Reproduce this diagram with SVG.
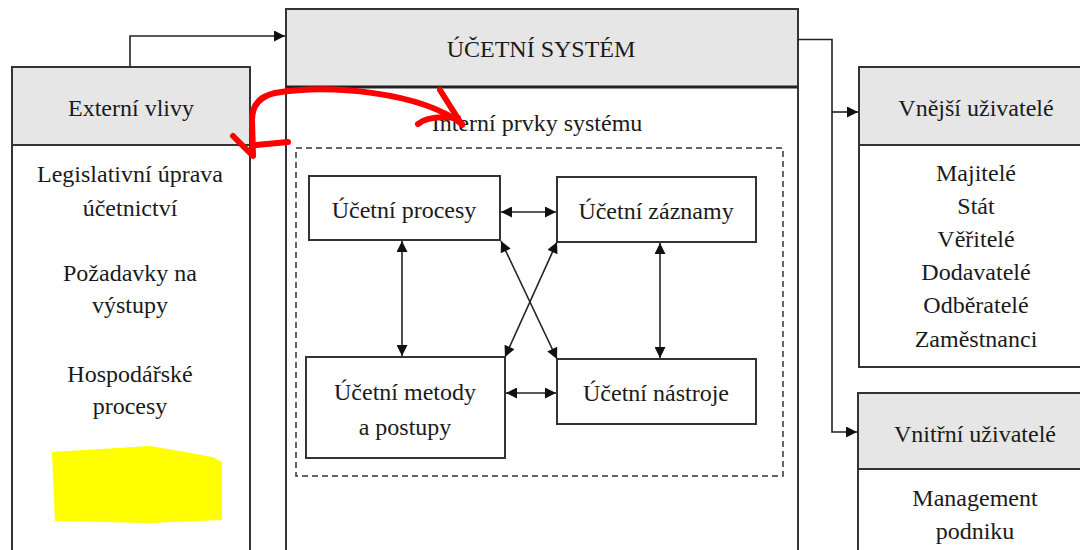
<svg xmlns="http://www.w3.org/2000/svg" width="1080" height="550" viewBox="0 0 1080 550">
<defs>
<marker id="ah" viewBox="0 0 10 10" refX="10" refY="5" markerWidth="13" markerHeight="11" markerUnits="userSpaceOnUse" orient="auto-start-reverse">
<path d="M0,0 L10,5 L0,10 Z" fill="#111"/>
</marker>
</defs>
<style>
.box{fill:#fff;stroke:#333;stroke-width:2}
.hdr{fill:#e6e6e6;stroke:#333;stroke-width:2}
.t{font-size:24px;fill:#1a1a1a;text-anchor:middle}
.c{fill:none;stroke:#222;stroke-width:1.6}
.red{fill:none;stroke:#f00;stroke-width:6;stroke-linecap:round;stroke-linejoin:round}
</style>
<rect width="1080" height="550" fill="#fff"/>
<g font-family="'Liberation Serif', 'Times New Roman', Times, 'DejaVu Serif', serif">

<g id="externi">
<rect class="box" x="12" y="67" width="238" height="500"/>
<rect class="hdr" x="12" y="67" width="238" height="78"/>
<text class="t" x="131" y="116">Externí vlivy</text>
<text class="t" x="130" y="182">Legislativní úprava</text>
<text class="t" x="130" y="216">účetnictví</text>
<text class="t" x="130" y="281">Požadavky na</text>
<text class="t" x="130" y="313">výstupy</text>
<text class="t" x="130" y="382">Hospodářské</text>
<text class="t" x="130" y="414">procesy</text>
<path d="M52,452 L150,446 L185,452 L212,457 L222,462 L222,520 L150,523 L55,521 Z" fill="#ff0"/>
</g>

<g id="system">
<rect class="box" x="286" y="9" width="512" height="560"/>
<rect class="hdr" x="286" y="9" width="512" height="78"/>
<line x1="286" y1="87" x2="798" y2="87" stroke="#222" stroke-width="3"/>
<text class="t" x="541" y="57">ÚČETNÍ SYSTÉM</text>
<text class="t" x="537" y="131">Interní prvky systému</text>
<rect x="296" y="148" width="487" height="328" fill="none" stroke="#333" stroke-width="1.5" stroke-dasharray="6,4"/>
</g>

<g id="procesy">
<rect class="box" x="309" y="176" width="191" height="64"/>
<text class="t" x="404" y="218">Účetní procesy</text>
</g>
<g id="zaznamy">
<rect class="box" x="557" y="177" width="199" height="65"/>
<text class="t" x="656" y="219">Účetní záznamy</text>
</g>
<g id="metody">
<rect class="box" x="306" y="357" width="199" height="101"/>
<text class="t" x="405" y="400">Účetní metody</text>
<text class="t" x="405" y="435">a postupy</text>
</g>
<g id="nastroje">
<rect class="box" x="557" y="359" width="199" height="65"/>
<text class="t" x="656" y="401">Účetní nástroje</text>
</g>

<g id="vnejsi">
<rect class="box" x="859" y="67" width="240" height="300"/>
<rect class="hdr" x="859" y="67" width="240" height="78"/>
<text class="t" x="976" y="116">Vnější uživatelé</text>
<text class="t" x="976" y="181">Majitelé</text>
<text class="t" x="976" y="214">Stát</text>
<text class="t" x="976" y="247">Věřitelé</text>
<text class="t" x="976" y="280">Dodavatelé</text>
<text class="t" x="976" y="313">Odběratelé</text>
<text class="t" x="976" y="347">Zaměstnanci</text>
</g>

<g id="vnitrni">
<rect class="box" x="858" y="393" width="240" height="180"/>
<rect class="hdr" x="858" y="393" width="240" height="76"/>
<text class="t" x="975" y="442">Vnitřní uživatelé</text>
<text class="t" x="975" y="506">Management</text>
<text class="t" x="975" y="539">podniku</text>
</g>
</g>

<g id="connectors">
<path class="c" d="M130,67 V36 H285" marker-end="url(#ah)"/>
<path class="c" d="M798,39.5 H832 V432 H857" marker-end="url(#ah)"/>
<path class="c" d="M832,112 H858" marker-end="url(#ah)"/>
<path class="c" d="M501,212 H556" marker-start="url(#ah)" marker-end="url(#ah)"/>
<path class="c" d="M506,393 H556" marker-start="url(#ah)" marker-end="url(#ah)"/>
<path class="c" d="M402,241 V356" marker-start="url(#ah)" marker-end="url(#ah)"/>
<path class="c" d="M660,243 V358" marker-start="url(#ah)" marker-end="url(#ah)"/>
<path class="c" d="M501,241 L557,359" marker-start="url(#ah)" marker-end="url(#ah)"/>
<path class="c" d="M557,242 L505,357" marker-start="url(#ah)" marker-end="url(#ah)"/>
</g>

<g id="red-mark">
<path class="red" d="M253,155 L252,120 Q252,98 275,93 C330,84 420,92 462,124"/>
<path class="red" d="M440,90 L462,125"/>
<path class="red" d="M418,124 Q428,115 458,118"/>
<path class="red" d="M233,136 L253,156"/>
<path class="red" d="M288,142 L256,145"/>
</g>
</svg>
